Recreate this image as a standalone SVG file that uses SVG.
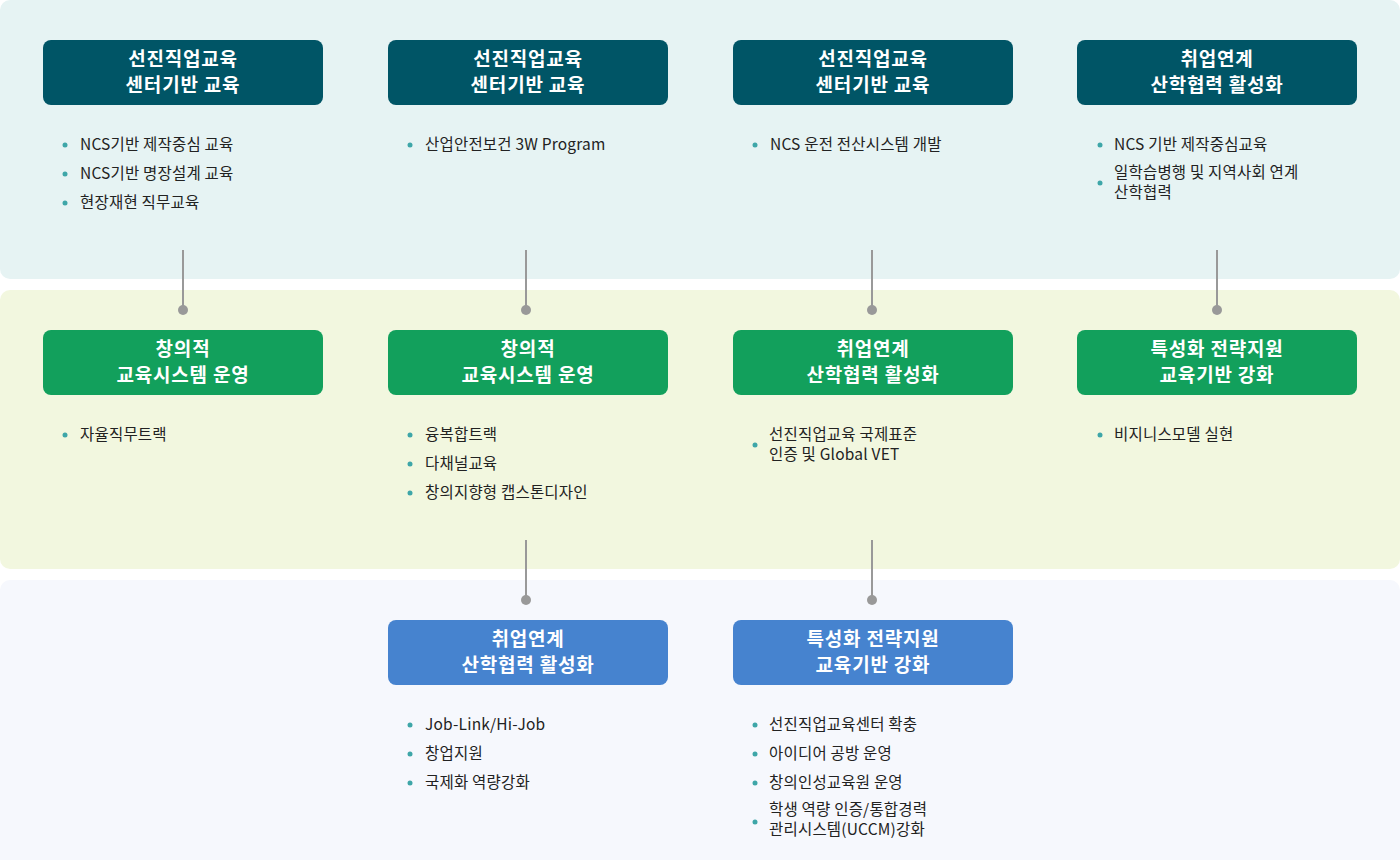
<svg xmlns="http://www.w3.org/2000/svg" width="1400" height="860" viewBox="0 0 1400 860">
<defs>
<style>
.t{font-family:"Noto Sans CJK KR","Noto Sans",sans-serif;font-size:19px;font-weight:bold;letter-spacing:0.8px;fill:#fff;text-anchor:middle}
.b{font-family:"Noto Sans CJK KR","Noto Sans",sans-serif;font-size:15.5px;letter-spacing:0.2px;fill:#222}
.d{fill:#3ea6a8}
.c1{fill:#005566}
.c2{fill:#12a05c}
.c3{fill:#4683cf}
.ln{stroke:#999;stroke-width:2}
.dt{fill:#999}
</style>
</defs>
<rect x="0" y="0" width="1400" height="279" rx="10" fill="#e6f3f3"/>
<rect x="0" y="290" width="1400" height="279" rx="10" fill="#f2f7df"/>
<rect x="0" y="580" width="1400" height="290" rx="10" fill="#f6f8fd"/>
<g id="connectors">
<line class="ln" x1="183" y1="250" x2="183" y2="310"/><circle class="dt" cx="183" cy="310" r="5"/>
<line class="ln" x1="526" y1="250" x2="526" y2="310"/><circle class="dt" cx="526" cy="310" r="5"/>
<line class="ln" x1="872" y1="250" x2="872" y2="310"/><circle class="dt" cx="872" cy="310" r="5"/>
<line class="ln" x1="1217" y1="250" x2="1217" y2="310"/><circle class="dt" cx="1217" cy="310" r="5"/>
<line class="ln" x1="526" y1="540" x2="526" y2="600"/><circle class="dt" cx="526" cy="600" r="5"/>
<line class="ln" x1="872" y1="540" x2="872" y2="600"/><circle class="dt" cx="872" cy="600" r="5"/>
</g>
<g id="n1">
<rect class="c1" x="43" y="40" width="280" height="65" rx="8"/>
<text class="t" x="183" y="66">선진직업교육</text><text class="t" x="183" y="92">센터기반 교육</text>
<circle class="d" cx="65" cy="145" r="2.5"/><text class="b" x="80" y="150">NCS기반 제작중심 교육</text>
<circle class="d" cx="65" cy="174" r="2.5"/><text class="b" x="80" y="179">NCS기반 명장설계 교육</text>
<circle class="d" cx="65" cy="203" r="2.5"/><text class="b" x="80" y="208">현장재현 직무교육</text>
</g>
<g id="n2">
<rect class="c1" x="388" y="40" width="280" height="65" rx="8"/>
<text class="t" x="528" y="66">선진직업교육</text><text class="t" x="528" y="92">센터기반 교육</text>
<circle class="d" cx="410" cy="145" r="2.5"/><text class="b" x="425" y="150">산업안전보건 3W Program</text>
</g>
<g id="n3">
<rect class="c1" x="733" y="40" width="280" height="65" rx="8"/>
<text class="t" x="873" y="66">선진직업교육</text><text class="t" x="873" y="92">센터기반 교육</text>
<circle class="d" cx="755" cy="145" r="2.5"/><text class="b" x="770" y="150">NCS 운전 전산시스템 개발</text>
</g>
<g id="n4">
<rect class="c1" x="1077" y="40" width="280" height="65" rx="8"/>
<text class="t" x="1217" y="66">취업연계</text><text class="t" x="1217" y="92">산학협력 활성화</text>
<circle class="d" cx="1100" cy="145" r="2.5"/><text class="b" x="1114" y="150">NCS 기반 제작중심교육</text>
<circle class="d" cx="1100" cy="183" r="2.5"/><text class="b" x="1114" y="178">일학습병행 및 지역사회 연계</text><text class="b" x="1114" y="198">산학협력</text>
</g>
<g id="n5">
<rect class="c2" x="43" y="330" width="280" height="65" rx="8"/>
<text class="t" x="183" y="356">창의적</text><text class="t" x="183" y="382">교육시스템 운영</text>
<circle class="d" cx="65" cy="435" r="2.5"/><text class="b" x="80" y="440">자율직무트랙</text>
</g>
<g id="n6">
<rect class="c2" x="388" y="330" width="280" height="65" rx="8"/>
<text class="t" x="528" y="356">창의적</text><text class="t" x="528" y="382">교육시스템 운영</text>
<circle class="d" cx="410" cy="435" r="2.5"/><text class="b" x="425" y="440">융복합트랙</text>
<circle class="d" cx="410" cy="464" r="2.5"/><text class="b" x="425" y="469">다채널교육</text>
<circle class="d" cx="410" cy="493" r="2.5"/><text class="b" x="425" y="498">창의지향형 캡스톤디자인</text>
</g>
<g id="n7">
<rect class="c2" x="733" y="330" width="280" height="65" rx="8"/>
<text class="t" x="873" y="356">취업연계</text><text class="t" x="873" y="382">산학협력 활성화</text>
<circle class="d" cx="755" cy="445" r="2.5"/><text class="b" x="769" y="440">선진직업교육 국제표준</text><text class="b" x="769" y="460">인증 및 Global VET</text>
</g>
<g id="n8">
<rect class="c2" x="1077" y="330" width="280" height="65" rx="8"/>
<text class="t" x="1217" y="356">특성화 전략지원</text><text class="t" x="1217" y="382">교육기반 강화</text>
<circle class="d" cx="1100" cy="435" r="2.5"/><text class="b" x="1114" y="440">비지니스모델 실현</text>
</g>
<g id="n9">
<rect class="c3" x="388" y="620" width="280" height="65" rx="8"/>
<text class="t" x="528" y="646">취업연계</text><text class="t" x="528" y="672">산학협력 활성화</text>
<circle class="d" cx="410" cy="725" r="2.5"/><text class="b" x="425" y="730">Job-Link/Hi-Job</text>
<circle class="d" cx="410" cy="754" r="2.5"/><text class="b" x="425" y="759">창업지원</text>
<circle class="d" cx="410" cy="783" r="2.5"/><text class="b" x="425" y="788">국제화 역량강화</text>
</g>
<g id="n10">
<rect class="c3" x="733" y="620" width="280" height="65" rx="8"/>
<text class="t" x="873" y="646">특성화 전략지원</text><text class="t" x="873" y="672">교육기반 강화</text>
<circle class="d" cx="755" cy="725" r="2.5"/><text class="b" x="769" y="730">선진직업교육센터 확충</text>
<circle class="d" cx="755" cy="754" r="2.5"/><text class="b" x="769" y="759">아이디어 공방 운영</text>
<circle class="d" cx="755" cy="783" r="2.5"/><text class="b" x="769" y="788">창의인성교육원 운영</text>
<circle class="d" cx="755" cy="822" r="2.5"/><text class="b" x="769" y="815">학생 역량 인증/통합경력</text><text class="b" x="769" y="835">관리시스템(UCCM)강화</text>
</g>
</svg>
